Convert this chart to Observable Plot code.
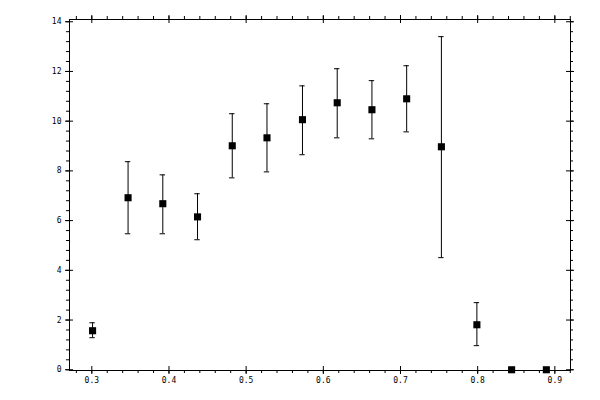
<!DOCTYPE html>
<html>
<head>
<meta charset="utf-8">
<script src="https://cdn.jsdelivr.net/npm/d3@7"></script>
<script src="https://cdn.jsdelivr.net/npm/@observablehq/plot@0.6"></script>
<style>
  html, body { margin: 0; padding: 0; background: #fff; }
</style>
</head>
<body>
<div id="chart"></div>
<script>
// Data
const xValues = [0.301, 0.347, 0.392, 0.437, 0.482, 0.527, 0.573, 0.618, 0.663, 0.708, 0.753, 0.799, 0.844, 0.889];
const yValues = [1.57, 6.92, 6.68, 6.15, 9.01, 9.33, 10.06, 10.74, 10.46, 10.90, 8.97, 1.81, 0.0, 0.0];
const yLow    = [1.29, 5.47, 5.47, 5.23, 7.72, 7.96, 8.65, 9.33, 9.29, 9.57, 4.51, 0.97, null, null];
const yHigh   = [1.89, 8.37, 7.84, 7.08, 10.30, 10.70, 11.42, 12.11, 11.63, 12.23, 13.40, 2.70, null, null];

const xMajorTicks = [0.3, 0.4, 0.5, 0.6, 0.7, 0.8, 0.9];
const xTickLabels = ["0.3", "0.4", "0.5", "0.6", "0.7", "0.8", "0.9"];
const xMinorTicks = d3.range(14, 47).map(i => i / 50); // 0.28 .. 0.92
const yMajorTicks = [0, 2, 4, 6, 8, 10, 12, 14];
const yTickLabels = ["0", "2", "4", "6", "8", "10", "12", "14"];
const yMinorTicks = d3.range(0, 36).map(i => i * 0.4); // 0 .. 14

const data = xValues.map((x, i) => ({x, y: yValues[i], lo: yLow[i], hi: yHigh[i]}));
const bars = data.filter(d => d.lo != null);

const W = 600, H = 400;
const mL = 69, mR = 30, mT = 19, mB = 30;
const xDomain = [0.2711, 0.9203];
const yDomain = [-0.03, 14.09];
const frameH = H - mT - mB;
const frameW = W - mL - mR;
const pxPerX = frameW / (xDomain[1] - xDomain[0]);
const capHalf = 2.7 / pxPerX;

const font = "DejaVu Sans Mono";

const chart = Plot.plot({
  width: W,
  height: H,
  marginLeft: mL,
  marginRight: mR,
  marginTop: mT,
  marginBottom: mB,
  style: {fontFamily: font, fontSize: "8px", background: "#fff", color: "#000"},
  x: {domain: xDomain, axis: null},
  y: {domain: yDomain, axis: null},
  marks: [
    Plot.frame({stroke: "black", strokeWidth: 1}),
    // bottom ticks
    Plot.ruleX(xMajorTicks, {x: d => d, insetTop: frameH - 4, insetBottom: -4, stroke: "black"}),
    Plot.ruleX(xMinorTicks, {x: d => d, insetTop: frameH, insetBottom: -3, stroke: "black"}),
    // top ticks
    Plot.ruleX(xMajorTicks, {x: d => d, insetBottom: frameH - 4, insetTop: -4, stroke: "black"}),
    Plot.ruleX(xMinorTicks, {x: d => d, insetBottom: frameH, insetTop: -3, stroke: "black"}),
    // left ticks
    Plot.ruleY(yMajorTicks, {y: d => d, insetRight: frameW - 4, insetLeft: -4, stroke: "black"}),
    Plot.ruleY(yMinorTicks, {y: d => d, insetRight: frameW, insetLeft: -3, stroke: "black"}),
    // right ticks
    Plot.ruleY(yMajorTicks, {y: d => d, insetLeft: frameW - 4, insetRight: -4, stroke: "black"}),
    Plot.ruleY(yMinorTicks, {y: d => d, insetLeft: frameW, insetRight: -3, stroke: "black"}),
    // tick labels
    Plot.text(xMajorTicks, {x: d => d, text: (d, i) => xTickLabels[i], frameAnchor: "bottom", dy: 12, fill: "black", fontSize: 8}),
    Plot.text(yMajorTicks, {y: d => d, text: (d, i) => yTickLabels[i], frameAnchor: "left", dx: -8, textAnchor: "end", fill: "black", fontSize: 8}),
    // error bars
    Plot.ruleX(bars, {x: "x", y1: "lo", y2: "hi", stroke: "black", strokeWidth: 1}),
    Plot.ruleY(bars, {y: "hi", x1: d => d.x - capHalf, x2: d => d.x + capHalf, stroke: "black"}),
    Plot.ruleY(bars, {y: "lo", x1: d => d.x - capHalf, x2: d => d.x + capHalf, stroke: "black"}),
    // points
    Plot.dot(data, {x: "x", y: "y", symbol: "square", r: 4, fill: "black", stroke: "none"})
  ]
});

document.getElementById("chart").appendChild(chart);
</script>
</body>
</html>
